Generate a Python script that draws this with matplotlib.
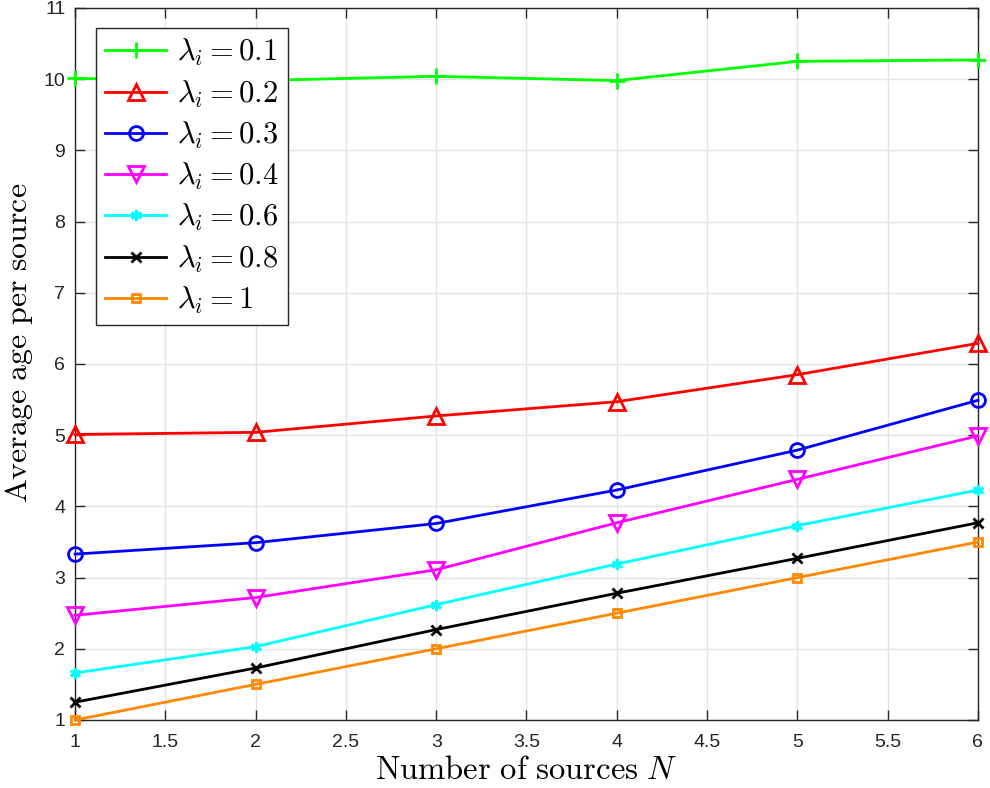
import matplotlib
matplotlib.use("Agg")
import matplotlib.pyplot as plt

# datos
N = [1, 2, 3, 4, 5, 6]
lam_labels = ["0.1", "0.2", "0.3", "0.4", "0.6", "0.8", "1"]
age_01 = [10.01, 9.98, 10.04, 9.98, 10.25, 10.27]
age_02 = [5.01, 5.04, 5.27, 5.47, 5.85, 6.29]
age_03 = [3.33, 3.49, 3.76, 4.23, 4.79, 5.49]
age_04 = [2.47, 2.72, 3.11, 3.77, 4.38, 4.99]
age_06 = [1.66, 2.03, 2.62, 3.19, 3.73, 4.23]
age_08 = [1.25, 1.73, 2.27, 2.78, 3.27, 3.77]
age_1 = [1.0, 1.5, 2.0, 2.5, 3.0, 3.5]

series = [age_01, age_02, age_03, age_04, age_06, age_08, age_1]
colors = ["#00FF00", "#FF0000", "#0000FF", "#FF00FF", "#00FFFF", "#000000", "#FF8800"]
markers = ["+", "^", "o", "v", (6, 2, 0), "x", "s"]
msizes = [11, 11, 10, 11, 8, 7, 6]

plt.rcParams.update({
    "font.family": "Liberation Sans",
    "mathtext.fontset": "cm",
    "axes.edgecolor": "#262626",
    "xtick.color": "#262626",
    "ytick.color": "#262626",
})

fig = plt.figure(figsize=(9.9, 7.88), dpi=100)
ax = fig.add_axes([0.0758, 0.0863, 0.912, 0.9036])

for ys, c, m, s, lab in zip(series, colors, markers, msizes, lam_labels):
    # marcadores huecos como en MATLAB
    relleno = c if m in ("+", "x", (6, 2, 0)) else "none"
    ax.plot(N, ys, color=c, marker=m, ms=s, mew=2.0, mfc=relleno,
            lw=2.0, label=rf"$\lambda_i = {lab}$", clip_on=False, zorder=3)

ax.set_xlim(1, 6)
ax.set_ylim(1, 11)
ax.set_xticks([1, 1.5, 2, 2.5, 3, 3.5, 4, 4.5, 5, 5.5, 6])
ax.set_xticklabels(["1", "1.5", "2", "2.5", "3", "3.5", "4", "4.5", "5", "5.5", "6"])
ax.set_yticks(range(1, 12))
ax.tick_params(direction="in", length=7, width=1, labelsize=14, top=True, right=True)
ax.tick_params(axis="x", pad=10)
ax.tick_params(axis="y", pad=7)
ax.grid(True, color="#e3e3e3", lw=1.0)
ax.set_axisbelow(True)
for sp in ax.spines.values():
    sp.set_linewidth(1.0)

ax.set_xlabel(r"$\mathrm{Number\ of\ sources}\ N$", fontsize=23.5, labelpad=3)
ax.set_ylabel(r"$\mathrm{Average\ age\ per\ source}$", fontsize=23)
ax.yaxis.set_label_coords(-0.044, 0.53)

leg = ax.legend(loc="upper left", bbox_to_anchor=(0.023, 0.972), fontsize=22,
                fancybox=False, edgecolor="#262626", framealpha=1, borderaxespad=0,
                handlelength=2.0, labelspacing=0.33, borderpad=0.3, handletextpad=0.35)
leg.get_frame().set_linewidth(1.0)

fig.savefig("out.png", dpi=100)
